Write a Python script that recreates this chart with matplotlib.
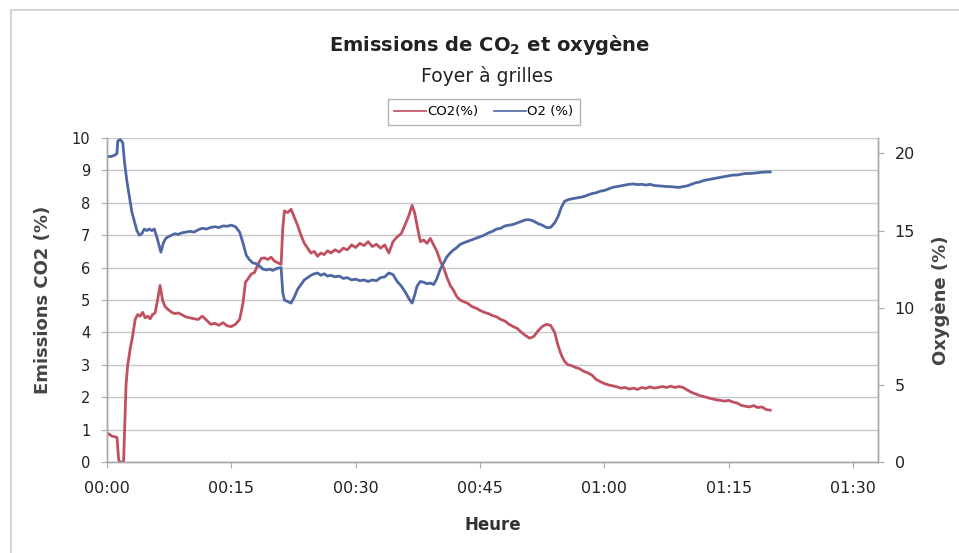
import matplotlib
matplotlib.use("Agg")
import matplotlib.pyplot as plt
from matplotlib.patches import Rectangle

plt.rcParams['font.family'] = ['DejaVu Sans']
plt.rcParams['mathtext.fontset'] = 'custom'
plt.rcParams['mathtext.rm'] = 'DejaVu Sans'
plt.rcParams['mathtext.bf'] = 'DejaVu Sans:bold'

# ---- data (time in minutes) ----
co2_t = [0.0, 0.3, 0.6, 0.9, 1.2, 1.4, 1.5, 2.0, 2.1, 2.3, 2.5, 2.8, 3.1, 3.4, 3.7, 4.0, 4.3, 4.6, 4.9,
         5.2, 5.5, 5.8, 6.1, 6.4, 6.7, 7.0, 7.4, 7.8, 8.2, 8.6, 9.0, 9.5, 10.0, 10.5, 11.0, 11.5, 12.0,
         12.5, 13.0, 13.5, 14.0, 14.5, 15.0, 15.5, 16.0, 16.4, 16.7, 17.0, 17.4, 17.8, 18.2, 18.6, 19.0,
         19.4, 19.8, 20.2, 20.6, 21.0, 21.2, 21.4, 21.8, 22.2, 22.6, 23.0, 23.4, 23.8, 24.2, 24.6, 25.0,
         25.4, 25.8, 26.2, 26.6, 27.0, 27.5, 28.0, 28.5, 29.0, 29.5, 30.0, 30.5, 31.0, 31.5, 32.0, 32.5,
         33.0, 33.5, 34.0, 34.5, 35.0, 35.5, 36.0, 36.4, 36.8, 37.1, 37.4, 37.8, 38.2, 38.6, 39.0, 39.4,
         39.8, 40.2, 40.6, 41.0, 41.4, 41.8, 42.2, 42.6, 43.0, 43.5, 44.0, 44.5, 45.0, 45.5, 46.0, 46.5,
         47.0, 47.5, 48.0, 48.5, 49.0, 49.5, 50.0, 50.5, 51.0, 51.5, 52.0, 52.5, 53.0, 53.5, 54.0, 54.4,
         54.8, 55.2, 55.6, 56.0, 56.5, 57.0, 57.5, 58.0, 58.5, 59.0, 59.5, 60.0, 60.5, 61.0, 61.5, 62.0,
         62.5, 63.0, 63.5, 64.0, 64.5, 65.0, 65.5, 66.0, 66.5, 67.0, 67.5, 68.0, 68.5, 69.0, 69.5, 70.0,
         70.5, 71.0, 71.5, 72.0, 72.5, 73.0, 73.5, 74.0, 74.5, 75.0, 75.5, 76.0, 76.5, 77.0, 77.5, 78.0,
         78.5, 79.0, 79.5, 80.0]
co2_v = [0.90, 0.85, 0.80, 0.78, 0.76, 0.10, 0.00, 0.00, 0.80, 2.40, 3.00, 3.50, 3.90, 4.40, 4.55, 4.50,
         4.62, 4.45, 4.50, 4.42, 4.55, 4.60, 5.00, 5.45, 5.00, 4.80, 4.70, 4.62, 4.58, 4.60, 4.55, 4.48,
         4.45, 4.42, 4.40, 4.50, 4.38, 4.25, 4.28, 4.22, 4.30, 4.20, 4.18, 4.25, 4.40, 4.90, 5.55, 5.65,
         5.80, 5.85, 6.10, 6.28, 6.30, 6.25, 6.32, 6.20, 6.15, 6.10, 7.20, 7.75, 7.70, 7.80, 7.55, 7.30,
         7.00, 6.75, 6.60, 6.45, 6.50, 6.35, 6.45, 6.40, 6.52, 6.45, 6.55, 6.48, 6.60, 6.55, 6.70, 6.62,
         6.75, 6.68, 6.80, 6.65, 6.72, 6.60, 6.70, 6.45, 6.80, 6.95, 7.05, 7.35, 7.60, 7.92, 7.70, 7.30,
         6.80, 6.85, 6.75, 6.90, 6.70, 6.50, 6.20, 6.00, 5.70, 5.45, 5.30, 5.10, 5.00, 4.95, 4.90, 4.80,
         4.75, 4.68, 4.62, 4.58, 4.52, 4.48, 4.40, 4.35, 4.25, 4.18, 4.12, 4.00, 3.90, 3.82, 3.88, 4.05,
         4.18, 4.25, 4.22, 4.00, 3.60, 3.30, 3.10, 3.00, 2.98, 2.92, 2.88, 2.80, 2.75, 2.68, 2.55, 2.48,
         2.42, 2.38, 2.35, 2.32, 2.28, 2.30, 2.25, 2.28, 2.24, 2.30, 2.27, 2.32, 2.28, 2.30, 2.33, 2.30,
         2.34, 2.30, 2.33, 2.30, 2.22, 2.15, 2.10, 2.05, 2.02, 1.98, 1.95, 1.92, 1.90, 1.88, 1.90, 1.85,
         1.82, 1.75, 1.72, 1.70, 1.74, 1.68, 1.70, 1.62, 1.60]

o2_t = [0.0, 0.5, 1.0, 1.2, 1.3, 1.6, 1.9, 2.1, 2.4, 2.7, 3.0, 3.3, 3.6, 3.9, 4.2, 4.5, 4.8, 5.1, 5.4,
        5.7, 6.0, 6.3, 6.5, 6.8, 7.1, 7.4, 7.8, 8.2, 8.6, 9.0, 9.5, 10.0, 10.5, 11.0, 11.5, 12.0, 12.5,
        13.0, 13.5, 14.0, 14.5, 15.0, 15.5, 16.0, 16.4, 16.8, 17.2, 17.6, 18.0, 18.4, 18.8, 19.2, 19.6,
        20.0, 20.5, 21.0, 21.2, 21.4, 21.8, 22.2, 22.6, 23.0, 23.4, 23.8, 24.2, 24.6, 25.0, 25.4, 25.8,
        26.2, 26.6, 27.0, 27.5, 28.0, 28.5, 29.0, 29.5, 30.0, 30.5, 31.0, 31.5, 32.0, 32.5, 33.0, 33.5,
        34.0, 34.5, 35.0, 35.5, 36.0, 36.4, 36.8, 37.1, 37.4, 37.8, 38.2, 38.6, 39.0, 39.4, 39.8, 40.2,
        40.6, 41.0, 41.4, 41.8, 42.2, 42.6, 43.0, 43.5, 44.0, 44.5, 45.0, 45.5, 46.0, 46.5, 47.0, 47.5,
        48.0, 48.5, 49.0, 49.5, 50.0, 50.5, 51.0, 51.5, 52.0, 52.5, 53.0, 53.5, 54.0, 54.4, 54.8, 55.2,
        55.6, 56.0, 56.5, 57.0, 57.5, 58.0, 58.5, 59.0, 59.5, 60.0, 60.5, 61.0, 61.5, 62.0, 62.5, 63.0,
        63.5, 64.0, 64.5, 65.0, 65.5, 66.0, 66.5, 67.0, 67.5, 68.0, 68.5, 69.0, 69.5, 70.0, 70.5, 71.0,
        71.5, 72.0, 72.5, 73.0, 73.5, 74.0, 74.5, 75.0, 75.5, 76.0, 76.5, 77.0, 77.5, 78.0, 78.5, 79.0,
        79.5, 80.0]
o2_v = [19.8, 19.8, 19.9, 20.0, 20.8, 20.9, 20.7, 19.5, 18.2, 17.2, 16.2, 15.6, 15.0, 14.7, 14.8, 15.1,
        15.0, 15.1, 15.0, 15.1, 14.6, 14.0, 13.6, 14.2, 14.5, 14.6, 14.7, 14.8, 14.75, 14.85, 14.9, 14.95,
        14.9, 15.05, 15.15, 15.1, 15.2, 15.25, 15.2, 15.3, 15.28, 15.35, 15.25, 14.9, 14.2, 13.4, 13.1,
        12.9, 12.85, 12.7, 12.5, 12.45, 12.5, 12.42, 12.55, 12.6, 11.0, 10.5, 10.4, 10.3, 10.7, 11.2,
        11.5, 11.8, 11.95, 12.1, 12.2, 12.25, 12.1, 12.2, 12.05, 12.1, 12.0, 12.05, 11.9, 11.95, 11.8,
        11.85, 11.75, 11.8, 11.7, 11.8, 11.75, 11.95, 12.0, 12.25, 12.15, 11.7, 11.4, 11.0, 10.6, 10.3,
        10.8, 11.4, 11.7, 11.65, 11.55, 11.6, 11.5, 11.9, 12.5, 12.9, 13.3, 13.55, 13.75, 13.9, 14.1,
        14.2, 14.3, 14.4, 14.5, 14.6, 14.7, 14.85, 14.95, 15.1, 15.15, 15.3, 15.35, 15.4, 15.5, 15.6,
        15.7, 15.7, 15.6, 15.45, 15.35, 15.2, 15.2, 15.5, 15.9, 16.5, 16.9, 17.0, 17.05, 17.1, 17.15,
        17.2, 17.3, 17.4, 17.45, 17.55, 17.6, 17.7, 17.8, 17.85, 17.9, 17.95, 18.0, 18.02, 17.98, 18.0,
        17.95, 18.0, 17.92, 17.9, 17.88, 17.85, 17.85, 17.82, 17.8, 17.85, 17.9, 18.0, 18.1, 18.15,
        18.25, 18.3, 18.35, 18.4, 18.45, 18.5, 18.55, 18.6, 18.6, 18.65, 18.7, 18.7, 18.72, 18.75, 18.78,
        18.8, 18.8]

x_ticks = [0, 15, 30, 45, 60, 75, 90]
x_labels = ["00:00", "00:15", "00:30", "00:45", "01:00", "01:15", "01:30"]
left_ticks = [0, 1, 2, 3, 4, 5, 6, 7, 8, 9, 10]
right_ticks = [0, 5, 10, 15, 20]

RED = '#C0505F'
BLUE = '#4E67A3'
GRID = '#C8C8C8'
SPINE = '#A8A8A8'

W, H = 959, 553
fig = plt.figure(figsize=(W / 100, H / 100), dpi=100)

# outer chart border
fig.patches.append(Rectangle((11 / W, -0.05), 1.2, 1 - 10 / H + 0.05, transform=fig.transFigure,
                             fill=False, edgecolor='#D4D4D4', linewidth=1.5))

ax = fig.add_axes([107 / W, 1 - 462 / H, (878 - 107) / W, (462 - 138) / H])
ax2 = ax.twinx()

l1, = ax.plot(co2_t, co2_v, color=RED, lw=2.0, solid_joinstyle='round')
l2, = ax2.plot(o2_t, o2_v, color=BLUE, lw=2.0, solid_joinstyle='round')

ax.set_xlim(0, 93)
ax.set_ylim(0, 10)
ax2.set_ylim(0, 21)
ax.set_xticks(x_ticks)
ax.set_xticklabels(x_labels)
ax.set_yticks(left_ticks)
ax2.set_yticks(right_ticks)

ax.grid(axis='y', color=GRID, lw=1.0)
ax.set_axisbelow(True)
for a in (ax, ax2):
    for s in a.spines.values():
        s.set_color(SPINE)
        s.set_linewidth(1.0)
    a.spines['top'].set_visible(False)
ax.tick_params(axis='x', colors=SPINE, labelcolor='#222222', labelsize=11.5, length=4, pad=10)
ax.tick_params(axis='y', colors=SPINE, labelcolor='#222222', labelsize=10.5, length=4, pad=8)
ax2.tick_params(axis='y', colors=SPINE, labelcolor='#222222', labelsize=11.5, length=4, pad=8)

ax.set_xlabel("Heure", fontsize=12, fontweight='bold', color='#333333', labelpad=14)
ax.set_ylabel("Emissions CO2 (%)", fontsize=13, fontweight='bold', color='#444444', labelpad=14)
ax2.set_ylabel("Oxygène (%)", fontsize=13, fontweight='bold', color='#444444', labelpad=12)

fig.text(490 / W, 1 - 45 / H, r"Emissions de CO$_\mathbf{2}$ et oxygène", ha='center', va='center',
         fontsize=14, fontweight='bold', color='#222222')
fig.text(487 / W, 1 - 76 / H, "Foyer à grilles", ha='center', va='center', fontsize=13.5,
         color='#222222')

h1 = plt.Line2D([], [], color=RED, lw=1.2)
h2 = plt.Line2D([], [], color=BLUE, lw=1.2)
leg = fig.legend([h1, h2], ["CO2(%)", "O2 (%)"], loc='center', bbox_to_anchor=(484 / W, 1 - 112 / H),
                 ncol=2, fontsize=9.5, frameon=True, fancybox=False, edgecolor='#A0A0A0',
                 handlelength=2.4, handletextpad=0.1, columnspacing=1.2, borderpad=0.5,
                 borderaxespad=0.0)
leg.get_frame().set_linewidth(1.0)

fig.savefig("out.png", dpi=100)
